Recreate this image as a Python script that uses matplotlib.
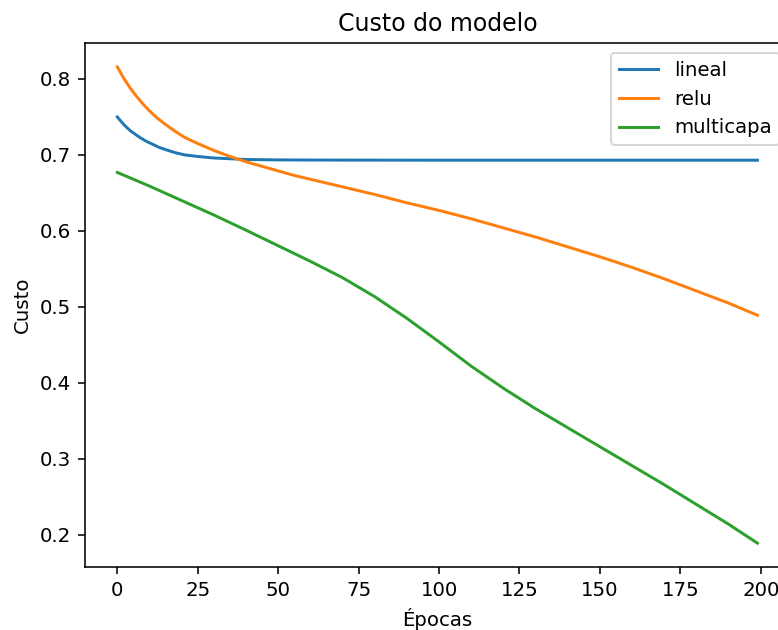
import matplotlib
matplotlib.use("Agg")
import matplotlib.pyplot as plt

# Values at these epochs
epochs_lineal = [0, 1, 2, 3, 4, 5, 7, 9, 11, 13, 15, 18, 21, 25, 30, 35, 40, 50, 60, 75, 100, 150, 199]
lineal = [0.750, 0.745, 0.740, 0.736, 0.732, 0.729, 0.723, 0.718, 0.714, 0.710, 0.707,
          0.703, 0.700, 0.698, 0.696, 0.695, 0.694, 0.6935, 0.6933, 0.6932, 0.6931,
          0.6931, 0.6931]

epochs_relu = [0, 2, 4, 6, 8, 10, 12, 15, 18, 21, 25, 30, 35, 40, 45, 50, 55, 60, 70, 80,
               90, 100, 110, 120, 130, 140, 150, 160, 170, 180, 190, 199]
relu = [0.816, 0.801, 0.788, 0.777, 0.767, 0.758, 0.750, 0.740, 0.731, 0.723, 0.715,
        0.706, 0.698, 0.691, 0.685, 0.679, 0.673, 0.668, 0.658, 0.648, 0.637, 0.627,
        0.616, 0.604, 0.592, 0.579, 0.566, 0.552, 0.537, 0.521, 0.505, 0.489]

epochs_multi = [0, 10, 20, 30, 40, 50, 60, 70, 80, 90, 100, 110, 120, 130, 140, 150,
                160, 170, 180, 190, 199]
multicapa = [0.677, 0.659, 0.640, 0.621, 0.601, 0.5805, 0.560, 0.5385, 0.5135, 0.485,
             0.454, 0.422, 0.393, 0.366, 0.341, 0.316, 0.291, 0.266, 0.240, 0.214, 0.189]

DPI = 142.0
fig = plt.figure(figsize=(778 / DPI, 630 / DPI), dpi=DPI)
ax = fig.add_axes([85.3 / 778, 1 - 567 / 630, (789.5 - 85.3) / 778, (567 - 43) / 630])

ax.plot(epochs_lineal, lineal, label="lineal")
ax.plot(epochs_relu, relu, label="relu")
ax.plot(epochs_multi, multicapa, label="multicapa")

ax.set_xlim(-9.95, 208.95)
ax.set_xticks([0, 25, 50, 75, 100, 125, 150, 175, 200])
ax.set_yticks([0.2, 0.3, 0.4, 0.5, 0.6, 0.7, 0.8])
ax.set_title("Custo do modelo")
ax.set_xlabel("Épocas")
ax.set_ylabel("Custo")
ax.legend(loc="upper right")

fig.savefig("out.png", dpi=DPI)
